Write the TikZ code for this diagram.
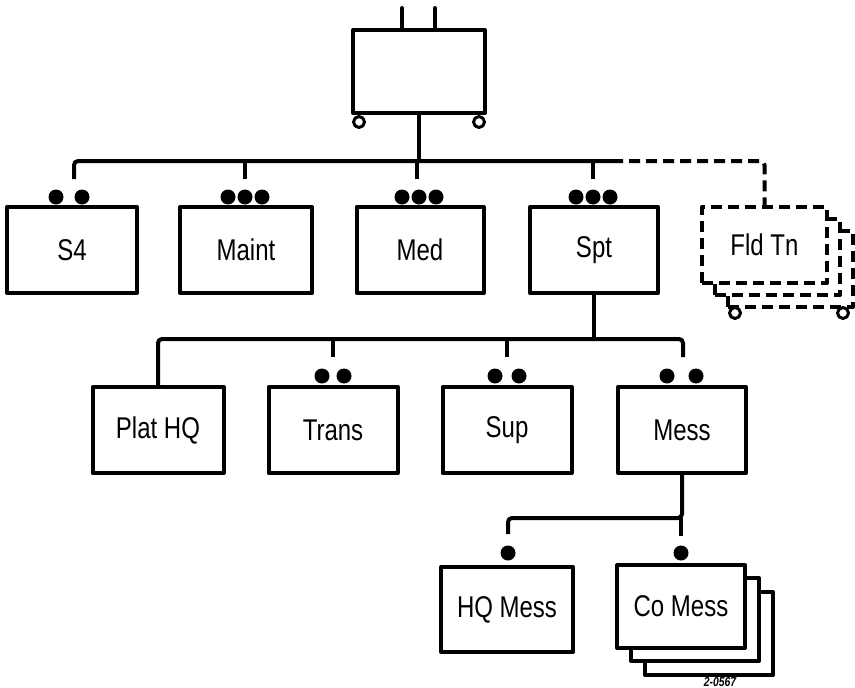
\documentclass[tikz,border=0pt]{standalone}
\usepackage{fontspec}
\newfontfamily\cond[FakeStretch=0.8]{Liberation Sans}
\begin{document}
\begin{tikzpicture}[x=1pt,y=-1pt,line width=4pt,line join=round,
  box/.style={draw,fill=white,minimum width=128pt,minimum height=86pt,inner sep=0pt,
    font=\cond\fontsize{30}{32}\selectfont},
  dbox/.style={box,dash pattern=on 11pt off 6pt},
  dot/.style={circle,fill=black,inner sep=0pt,minimum size=15pt},
  wheel/.style={circle,draw,fill=white,line width=3pt,inner sep=0pt,minimum size=11pt},
  wire/.style={rounded corners=4pt},
  dwire/.style={wire,dash pattern=on 11pt off 6pt}]
\useasboundingbox (0,0) rectangle (855,688);

% top cart
\node[box,minimum width=132pt,minimum height=83pt] (top) at (419,71.5) {};
\coordinate (p1) at (402,8);
\coordinate (p2) at (435,8);
\draw[line cap=round] (p1) -- (p1 |- top.north);
\draw[line cap=round] (p2) -- (p2 |- top.north);
\node[wheel] (tw1) at (359,122) {};
\node[wheel] (tw2) at (479,122) {};

% row 1
\node[box,minimum width=130pt] (s4) at (72,250) {S4};
\node[box,minimum width=132pt] (maint) at (246,250) {Maint};
\node[box,minimum width=127pt] (med) at (420,250) {Med};
\node[box,minimum width=128pt] (spt) at (594,250) {Spt};
% Fld Tn stack
\node[dbox,minimum width=125pt,minimum height=76pt] (fld3) at (790.5,269) {};
\node[wheel] (fw1) at (735,313) {};
\node[wheel] (fw2) at (843,313) {};
\node[dbox,minimum width=125pt,minimum height=76pt] (fld2) at (777.5,257) {};
\node[dbox,minimum width=125pt,minimum height=76pt] (fld) at (764.5,245) {Fld Tn};

% row 1 dots
\node[dot] (s4a) at (56,197) {};
\node[dot] (s4b) at (82,197) {};
\node[dot] (mta) at (228,197) {};
\node[dot] (mtb) at (245,197) {};
\node[dot] (mtc) at (262,197) {};
\node[dot] (mda) at (402,197) {};
\node[dot] (mdb) at (419,197) {};
\node[dot] (mdc) at (436,197) {};
\node[dot] (spa) at (576,197) {};
\node[dot] (spb) at (593,197) {};
\node[dot] (spc) at (610,197) {};

% row 1 connectors
\coordinate (r1L) at (74,161);
\coordinate (r1S) at (612,161);
\coordinate (s4t) at (74,179);
\coordinate (mtt) at (245,179);
\coordinate (mdt) at (417,179);
\coordinate (spt1) at (593,179);
\draw[wire] (s4t) -- (r1L) -- (r1S);
\draw (top.south) -- (top.south |- r1L);
\draw (mtt |- r1L) -- (mtt);
\draw (mdt |- r1L) -- (mdt);
\draw (spt1 |- r1L) -- (spt1);
\draw[dwire] (r1S) -- (fld.north |- r1L) -- (fld.north);

% row 2
\node[box,minimum width=131pt] (plat) at (158,430) {Plat HQ};
\node[box,minimum width=129pt] (trans) at (333,430) {Trans};
\node[box,minimum width=129pt] (sup) at (507,430) {Sup};
\node[box,minimum width=128pt] (mess) at (682,430) {Mess};

\node[dot] (tra) at (322,376) {};
\node[dot] (trb) at (344,376) {};
\node[dot] (sua) at (495,376) {};
\node[dot] (sub) at (519,376) {};
\node[dot] (mea) at (667,376) {};
\node[dot] (meb) at (696,376) {};

\coordinate (r2L) at (158,339);
\coordinate (r2R) at (683,339);
\coordinate (trt) at (333,357);
\coordinate (sut) at (507,357);
\coordinate (met) at (683,357);
\draw (spt.south) -- (spt.south |- r2L);
\draw[wire] (plat.north) -- (r2L) -- (r2R) -- (met);
\draw (trt |- r2L) -- (trt);
\draw (sut |- r2L) -- (sut);

% row 3
\node[box,minimum width=132pt,minimum height=85pt] (hqm) at (507,609.5) {HQ Mess};
\node[box,minimum height=83pt] (com3) at (709,633.5) {};
\node[box,minimum height=83pt] (com2) at (695,619.5) {};
\node[box,minimum height=83pt] (com) at (681,606.5) {Co Mess};

\node[dot] (hqd) at (508,553) {};
\node[dot] (cod) at (681,553) {};

\coordinate (r3L) at (508,518);
\coordinate (hqt) at (508,534);
\coordinate (cot) at (681,536);
\draw[wire] (mess.south) -- (mess.south |- r3L) -- (r3L) -- (hqt);
\draw (cot |- r3L) -- (cot);

\node[font=\cond\bfseries\itshape\fontsize{13}{13}\selectfont] (code) at (720,682) {2-0567};
\end{tikzpicture}
\end{document}
